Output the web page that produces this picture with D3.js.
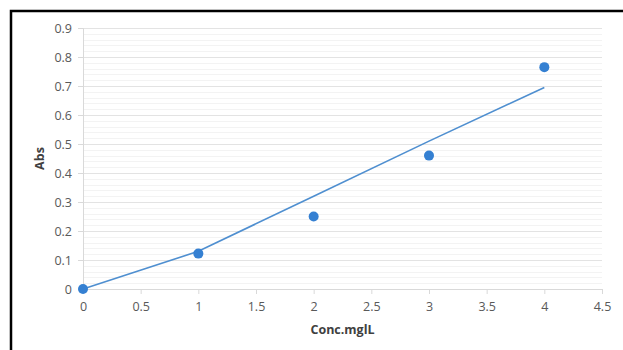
<!DOCTYPE html>
<html>
<head>
  <meta charset="utf-8">
  <title>Abs vs Conc</title>
  <script src="https://d3js.org/d3.v7.min.js"></script>
  <style>
    body { margin: 0; background: #fff; }
    svg text { font-family: "Open Sans", "Noto Sans", sans-serif; }
  </style>
</head>
<body>
  <svg width="623" height="350"></svg>
  <script>
    // measured points
    var conc = [0, 1, 2, 3, 4];
    var abs = [0, 0.122, 0.25, 0.46, 0.765];
    // fitted curve values
    var fitAbs = [0, 0.13, 0.32, 0.51, 0.695];
    var xTicks = [0, 0.5, 1, 1.5, 2, 2.5, 3, 3.5, 4, 4.5];
    var yTicks = [0, 0.1, 0.2, 0.3, 0.4, 0.5, 0.6, 0.7, 0.8, 0.9];

    var svg = d3.select("svg");
    var margin = { top: 28, right: 21, bottom: 61, left: 83 };
    var width = +svg.attr("width") - margin.left - margin.right;
    var height = +svg.attr("height") - margin.top - margin.bottom;

    // outer frame (top and left edges)
    svg.append("path")
      .attr("d", "M11,350V11H623")
      .attr("fill", "none")
      .attr("stroke", "#000")
      .attr("stroke-width", 2.5);

    var g = svg.append("g").attr("transform", "translate(" + margin.left + "," + margin.top + ")");
    var x = d3.scaleLinear().domain([0, 4.5]).range([0, width]);
    var y = d3.scaleLinear().domain([0, 0.9]).range([height, 0]);

    // minor gridlines
    g.append("g").selectAll("line")
      .data(d3.range(0, 0.9001, 0.02).filter(function (d) { return Math.abs(d * 10 - Math.round(d * 10)) > 0.01; }))
      .enter().append("line")
      .attr("x1", 0).attr("x2", width)
      .attr("y1", function (d) { return Math.round(y(d)) + 0.5; })
      .attr("y2", function (d) { return Math.round(y(d)) + 0.5; })
      .attr("stroke", "#f3f3f3");

    // major gridlines
    g.append("g").selectAll("line")
      .data(yTicks.slice(1))
      .enter().append("line")
      .attr("x1", 0).attr("x2", width)
      .attr("y1", function (d) { return Math.round(y(d)) + 0.5; })
      .attr("y2", function (d) { return Math.round(y(d)) + 0.5; })
      .attr("stroke", "#e3e3e3");

    var yAxis = g.append("g")
      .call(d3.axisLeft(y).tickValues(yTicks).tickFormat(d3.format("")).tickSize(5).tickPadding(6));
    yAxis.select(".domain").attr("stroke", "#d9d9d9");
    yAxis.selectAll(".tick line").attr("stroke", "#d9d9d9");
    yAxis.selectAll("text").attr("fill", "#595959").style("font-size", "12.5px");

    var xAxis = g.append("g")
      .attr("transform", "translate(0," + height + ")")
      .call(d3.axisBottom(x).tickValues(xTicks).tickFormat(d3.format("")).tickSize(5).tickPadding(8));
    xAxis.select(".domain").attr("stroke", "#d9d9d9");
    xAxis.selectAll(".tick line").attr("stroke", "#d9d9d9");
    xAxis.selectAll("text").attr("fill", "#595959").style("font-size", "12.5px");

    // axis titles
    svg.append("text")
      .attr("x", margin.left + width / 2)
      .attr("y", 334)
      .attr("text-anchor", "middle")
      .attr("fill", "#404040")
      .style("font-size", "12.5px")
      .style("font-weight", "bold")
      .text("Conc.mglL");

    svg.append("text")
      .attr("transform", "translate(44," + (margin.top + height / 2) + ") rotate(-90)")
      .attr("text-anchor", "middle")
      .attr("fill", "#404040")
      .style("font-size", "12.5px")
      .style("font-weight", "bold")
      .text("Abs");

    // fitted line
    var line = d3.line()
      .x(function (d, i) { return x(conc[i]); })
      .y(function (d) { return y(d); });
    g.append("path")
      .datum(fitAbs)
      .attr("fill", "none")
      .attr("stroke", "#4f8fd0")
      .attr("stroke-width", 1.6)
      .attr("d", line);

    // points
    g.selectAll(".dot")
      .data(abs)
      .enter().append("circle")
      .attr("class", "dot")
      .attr("cx", function (d, i) { return x(conc[i]); })
      .attr("cy", function (d) { return y(d); })
      .attr("r", 5)
      .attr("fill", "#3580d2");
  </script>
</body>
</html>
